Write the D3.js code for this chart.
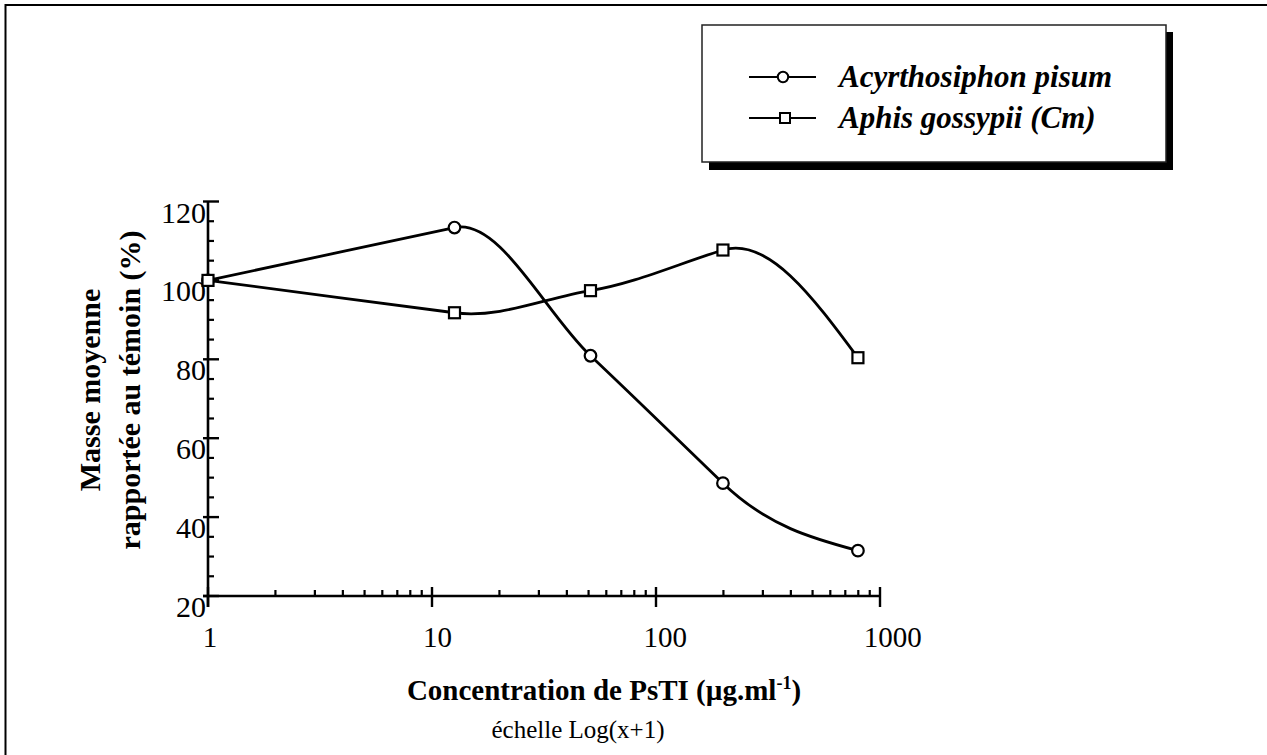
<!DOCTYPE html>
<html>
<head>
<meta charset="utf-8">
<script src="https://cdn.jsdelivr.net/npm/d3@7"></script>
<style>
  html, body { margin: 0; padding: 0; background: #fff; }
  svg { display: block; font-family: "Liberation Serif", "Times New Roman", serif; }
</style>
</head>
<body>
<svg id="chart" width="1267" height="755"></svg>
<script>
// Concentrations (plotted on a log(x+1) axis) and mean mass relative to control (%)
const concentrations = [1, 12.6, 51, 199, 797];
const pisumMass = [100, 113.4, 80.9, 48.6, 31.5];
const gossypiiMass = [100, 91.8, 97.4, 107.7, 80.4];
const yTickValues = [20, 40, 60, 80, 100, 120];
const xTickValues = [1, 10, 100, 1000];
const seriesNames = ["Acyrthosiphon pisum", "Aphis gossypii (Cm)"];

// Smooth curve factory for d3.line: cubic Hermite segments where each interior
// point keeps the slope of the segment arriving at it; the ends use a
// natural (zero-curvature) condition.
function curveLeadingSlope(context) {
  return {
    lineStart() { this._px = []; this._py = []; },
    point(px, py) { this._px.push(+px); this._py.push(+py); },
    lineEnd() {
      const X = this._px, Y = this._py, n = X.length;
      if (!n) return;
      context.moveTo(X[0], Y[0]);
      if (n === 1) return;
      const s = d3.range(n - 1).map(i => (Y[i + 1] - Y[i]) / (X[i + 1] - X[i]));
      const m = new Array(n);
      for (let i = 1; i < n - 1; i++) m[i] = s[i - 1];
      m[0] = n > 2 ? (3 * s[0] - m[1]) / 2 : s[0];
      m[n - 1] = n > 2 ? (3 * s[n - 2] - m[n - 2]) / 2 : s[0];
      for (let i = 0; i < n - 1; i++) {
        const h = X[i + 1] - X[i];
        context.bezierCurveTo(
          X[i] + h / 3, Y[i] + m[i] * h / 3,
          X[i + 1] - h / 3, Y[i + 1] - m[i + 1] * h / 3,
          X[i + 1], Y[i + 1]);
      }
    },
    areaStart() {}, areaEnd() {}
  };
}

const svg = d3.select("#chart");
const x = d3.scaleLog().domain([1, 1000]).range([208, 880]);
const y = d3.scaleLinear().domain([20, 120]).range([596, 201.5]);

// Page frame (top and left edges)
svg.append("path")
  .attr("d", "M5.5,760V5H1275")
  .attr("fill", "none").attr("stroke", "#000").attr("stroke-width", 2);

// ---------- axes ----------
const axes = svg.append("g").attr("stroke", "#000").attr("fill", "none");
const x0 = x(1), yBase = y(20);

// vertical axis line and ticks
axes.append("line")
  .attr("x1", x0).attr("x2", x0)
  .attr("y1", y(120)).attr("y2", yBase + 11)
  .attr("stroke-width", 2.6);
axes.selectAll(".ymaj").data(yTickValues).join("line")
  .attr("x1", x0 - 5).attr("x2", x0 + 11)
  .attr("y1", d => y(d)).attr("y2", d => y(d))
  .attr("stroke-width", 2.4);
const yMinor = d3.range(20, 120, 5).filter(v => v % 20 !== 0);
axes.selectAll(".ymin").data(yMinor).join("line")
  .attr("x1", x0).attr("x2", x0 + 6)
  .attr("y1", d => y(d)).attr("y2", d => y(d))
  .attr("stroke-width", 2.2);

// horizontal axis line and ticks
axes.append("line")
  .attr("x1", x0 - 5).attr("x2", x(1000))
  .attr("y1", yBase).attr("y2", yBase)
  .attr("stroke-width", 2.6);
axes.selectAll(".xmaj").data(xTickValues).join("line")
  .attr("x1", d => x(d)).attr("x2", d => x(d))
  .attr("y1", yBase - 9).attr("y2", yBase + 11)
  .attr("stroke-width", 2.4);
const xMinor = [];
[1, 10, 100].forEach(dec => { for (let k = 2; k <= 9; k++) xMinor.push(dec * k); });
axes.selectAll(".xmin").data(xMinor).join("line")
  .attr("x1", d => x(d)).attr("x2", d => x(d))
  .attr("y1", yBase - 6).attr("y2", yBase)
  .attr("stroke-width", 2.2);

// tick labels
svg.append("g").selectAll("text").data(yTickValues).join("text")
  .attr("x", x0 - 2).attr("y", d => y(d) + 21)
  .attr("text-anchor", "end")
  .attr("font-size", 30)
  .text(d => d);
svg.append("g").selectAll("text").data(xTickValues).join("text")
  .attr("x", d => x(d) - 1.5 - 3.7 * String(d).length)
  .attr("y", 647)
  .attr("font-size", 29)
  .text(d => d);

// axis titles
const xTitle = svg.append("text")
  .attr("x", 604).attr("y", 700)
  .attr("text-anchor", "middle")
  .attr("font-size", 29).attr("font-weight", "bold");
xTitle.append("tspan").text("Concentration de PsTI (µg.ml");
xTitle.append("tspan").attr("font-size", 18).attr("dy", -11).text("-1");
xTitle.append("tspan").attr("dy", 11).text(")");

svg.append("text")
  .attr("x", 578).attr("y", 738)
  .attr("text-anchor", "middle")
  .attr("font-size", 25)
  .text("échelle Log(x+1)");

const yTitle = svg.append("text")
  .attr("transform", "translate(0,390) rotate(-90)")
  .attr("text-anchor", "middle")
  .attr("font-size", 30).attr("font-weight", "bold");
yTitle.append("tspan").attr("x", 0).attr("y", 100).text("Masse moyenne");
yTitle.append("tspan").attr("x", 0).attr("y", 140).text("rapportée au témoin (%)");

// ---------- series ----------
const pisumPts = concentrations.map((c, i) => [c, pisumMass[i]]);
const gossypiiPts = concentrations.map((c, i) => [c, gossypiiMass[i]]);

const line = d3.line()
  .x(d => x(d[0])).y(d => y(d[1]))
  .curve(curveLeadingSlope);

const plot = svg.append("g");
plot.append("path").attr("d", line(pisumPts))
  .attr("fill", "none").attr("stroke", "#000").attr("stroke-width", 2.8);
plot.append("path").attr("d", line(gossypiiPts))
  .attr("fill", "none").attr("stroke", "#000").attr("stroke-width", 2.8);

plot.selectAll(".circ").data(pisumPts).join("circle")
  .attr("cx", d => x(d[0])).attr("cy", d => y(d[1])).attr("r", 5.8)
  .attr("fill", "#fff").attr("stroke", "#000").attr("stroke-width", 2.2);
plot.selectAll(".sq").data(gossypiiPts).join("rect")
  .attr("x", d => x(d[0]) - 5.5).attr("y", d => y(d[1]) - 5.5)
  .attr("width", 11).attr("height", 11)
  .attr("fill", "#fff").attr("stroke", "#000").attr("stroke-width", 2.2);

// ---------- legend ----------
const lg = svg.append("g");
lg.append("rect").attr("x", 709).attr("y", 32).attr("width", 464).attr("height", 138).attr("fill", "#000");
lg.append("rect").attr("x", 702).attr("y", 25).attr("width", 464).attr("height", 137)
  .attr("fill", "#fff").attr("stroke", "#222").attr("stroke-width", 1.5);

const legendRows = [
  { name: seriesNames[0], y: 77, shape: "circle" },
  { name: seriesNames[1], y: 118, shape: "square" }
];
legendRows.forEach(r => {
  lg.append("line").attr("x1", 749).attr("x2", 816).attr("y1", r.y).attr("y2", r.y)
    .attr("stroke", "#000").attr("stroke-width", 2.2);
  if (r.shape === "circle") {
    lg.append("circle").attr("cx", 783).attr("cy", r.y).attr("r", 5.2)
      .attr("fill", "#fff").attr("stroke", "#000").attr("stroke-width", 2);
  } else {
    lg.append("rect").attr("x", 780).attr("y", r.y - 5).attr("width", 10).attr("height", 10)
      .attr("fill", "#fff").attr("stroke", "#000").attr("stroke-width", 2);
  }
  lg.append("text").attr("x", 839).attr("y", r.y + 10)
    .attr("font-size", 31).attr("font-weight", "bold").attr("font-style", "italic")
    .text(r.name);
});
</script>
</body>
</html>
